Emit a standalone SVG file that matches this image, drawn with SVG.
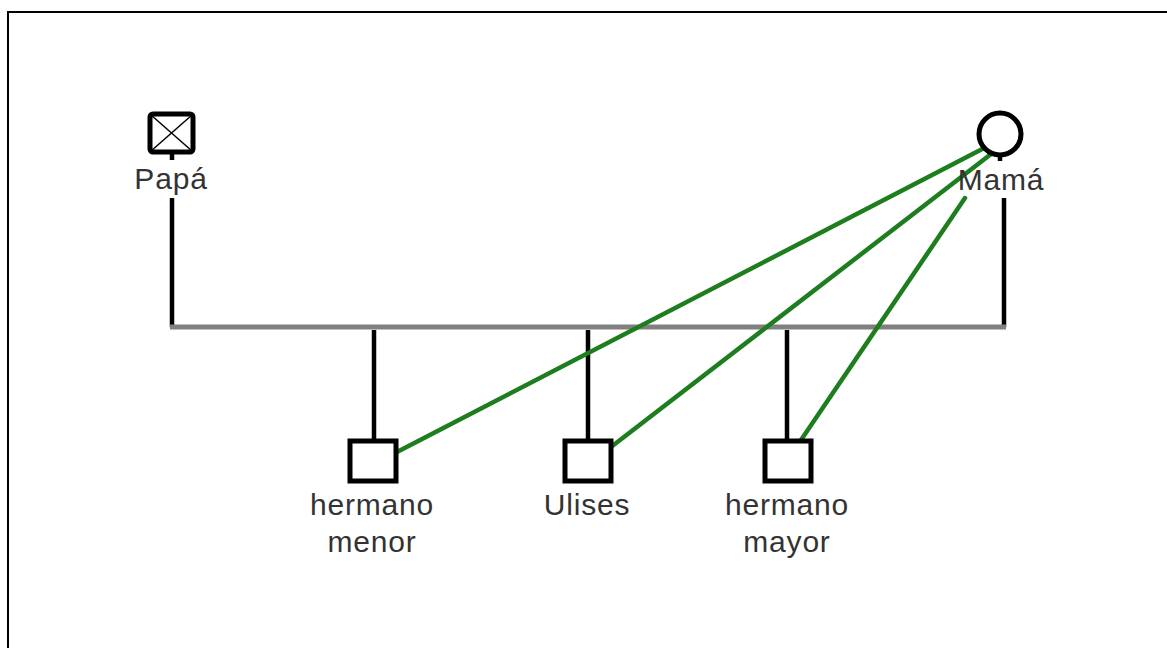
<svg xmlns="http://www.w3.org/2000/svg" width="1167" height="648" viewBox="0 0 1167 648">
<style>
.sym{fill:#fff;stroke:#000;stroke-width:5}
.blk{stroke:#000;stroke-width:4.5;fill:none}
.lbl{font-family:"Liberation Sans",Arial,sans-serif;font-size:30px;letter-spacing:0.8px;fill:#333;text-anchor:middle}
.rel{stroke:#1e7d1e;stroke-width:4.5;fill:none;stroke-linecap:round}
</style>
<rect x="0" y="0" width="1167" height="648" fill="#fff"/>
<path d="M8 648 V12 H1167" fill="none" stroke="#000" stroke-width="2"/>
<g id="connectors">
<line x1="172" y1="198" x2="172" y2="327" class="blk"/>
<line x1="1004" y1="198" x2="1004" y2="327" class="blk"/>
<line x1="170" y1="327" x2="1006" y2="327" stroke="#808080" stroke-width="5"/>
<line x1="374" y1="330" x2="374" y2="440" class="blk"/>
<line x1="588" y1="330" x2="588" y2="440" class="blk"/>
<line x1="787" y1="330" x2="787" y2="440" class="blk"/>
<line x1="397" y1="452" x2="990" y2="145" class="rel"/>
<line x1="611" y1="447" x2="995" y2="151" class="rel"/>
<line x1="801" y1="440" x2="965" y2="198" class="rel"/>
</g>
<g id="papa">
<rect x="150" y="114" width="43" height="38" rx="3" class="sym"/>
<line x1="151" y1="115" x2="192" y2="151" stroke="#000" stroke-width="1.5"/>
<line x1="192" y1="115" x2="151" y2="151" stroke="#000" stroke-width="1.5"/>
<line x1="172" y1="152" x2="172" y2="160" class="blk"/>
<text x="171" y="189" class="lbl">Papá</text>
</g>
<g id="mama">
<circle cx="1000" cy="134" r="21" class="sym"/>
<line x1="1000" y1="155" x2="1000" y2="161" class="blk"/>
<text x="1001" y="190" class="lbl">Mamá</text>
</g>
<g id="hermano-menor">
<rect x="350" y="441" width="46" height="40" class="sym"/>
<text x="372" y="515" class="lbl">hermano</text>
<text x="372" y="552" class="lbl">menor</text>
</g>
<g id="ulises">
<rect x="565" y="441" width="46" height="40" class="sym"/>
<text x="587" y="515" class="lbl">Ulises</text>
</g>
<g id="hermano-mayor">
<rect x="765" y="441" width="46" height="40" class="sym"/>
<text x="787" y="515" class="lbl">hermano</text>
<text x="787" y="552" class="lbl">mayor</text>
</g>
</svg>
